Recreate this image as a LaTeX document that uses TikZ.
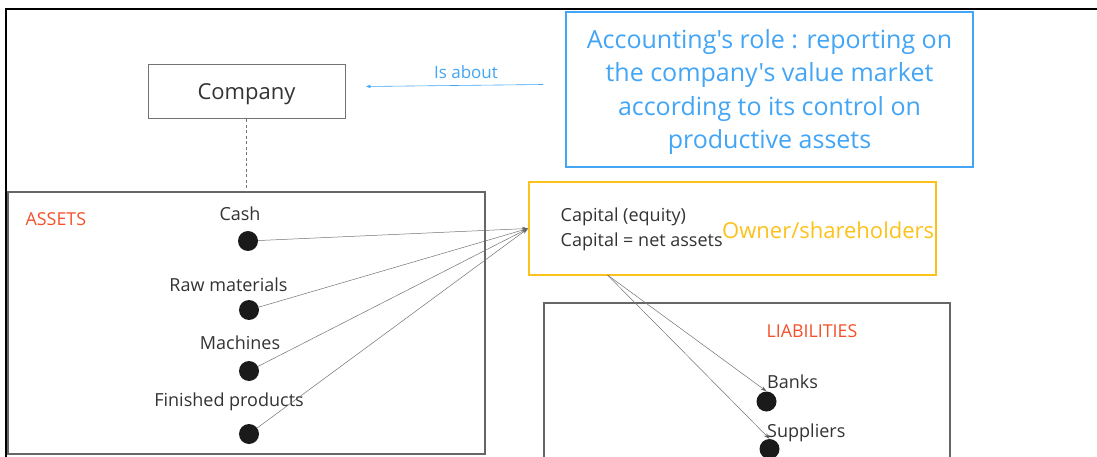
\documentclass[tikz,border=0pt]{standalone}
\usepackage{fontspec}
\setmainfont{Open Sans}[Ligatures=TeXOff]
\usetikzlibrary{arrows.meta,calc}
\definecolor{txt}{HTML}{333333}
\definecolor{acblue}{HTML}{42A5F5}
\definecolor{acyellow}{HTML}{FCC21B}
\definecolor{acred}{HTML}{F4502A}
\definecolor{boxgray}{HTML}{666666}
\definecolor{dotc}{HTML}{1A1A1A}
\begin{document}
\begin{tikzpicture}[x=1pt,y=-1pt,
  grayframe/.style={draw=boxgray,line width=1.3pt,inner sep=0pt},
  lbl/.style={text=txt,inner sep=0pt,font=\fontsize{18}{21}\selectfont},
  redlbl/.style={text=acred,inner sep=0pt,font=\fontsize{17.8}{21}\selectfont},
  dotnode/.style={circle,fill=dotc,minimum size=20pt,inner sep=0pt},
  conn/.style={draw=black!55,line width=0.5pt,-{Stealth[length=6pt,width=4pt,fill=black!80]}}]
\useasboundingbox (0,0) rectangle (1097,457);
\fill[white] (0,0) rectangle (1097,457);
\begin{scope}
\clip (0,0) rectangle (1097,457);
\draw[black,line width=2.2pt] (6,480) -- (6,9.3) -- (1120,9.3);
% company
\node[draw=black!55,line width=1pt,minimum width=197pt,minimum height=54pt,inner sep=0pt,
  text depth=0pt,text=txt,font=\fontsize{22}{26}\selectfont] (company) at (246.5,92) {Company};
% is about
\coordinate (aboutstart) at (543,84.5);
\coordinate (aboutend) at (366,86.5);
\draw[draw=acblue,line width=0.6pt,-{Stealth[length=5pt,width=3.5pt]}] (aboutstart) -- (aboutend);
\node[text=acblue,inner sep=0pt,font=\fontsize{17}{20}\selectfont] (isabout) at (466,72) {Is about};
% blue box
\node[draw=acblue,line width=2pt,minimum width=407pt,minimum height=155pt,inner sep=0pt] (rolebox) at (769.5,89.5) {};
\node[text=acblue,align=center,inner sep=0pt,font=\fontsize{25}{33.5}\selectfont] (roletext) at (769.5,92) {Accounting's role : reporting on\\the company's value market\\according to its control on\\productive assets};
% assets box
\node[grayframe,minimum width=477pt,minimum height=262pt] (assets) at (246.5,323) {};
\draw[draw=black!55,line width=0.8pt,dash pattern=on 3pt off 2.5pt] (company.south) -- (assets.north -| company.south);
\node[redlbl,anchor=west] (assetslbl) at (25.5,219) {ASSETS};
\node[lbl] (cash) at (240,214) {Cash};
\node[dotnode] (cashdot) at (248,241) {};
\node[lbl] (raw) at (228.5,285) {Raw materials};
\node[dotnode] (rawdot) at (249,310) {};
\node[lbl] (mach) at (240,343) {Machines};
\node[dotnode] (machdot) at (249,371) {};
\node[lbl] (fin) at (229,402) {Finished products};
\node[dotnode] (findot) at (249,434) {};
% capital box
\node[draw=acyellow,line width=2pt,minimum width=407pt,minimum height=93pt,inner sep=0pt] (capbox) at (732.5,228.5) {};
\node[lbl,anchor=west,align=left,font=\fontsize{18}{25}\selectfont] (captext) at (560.5,229.5) {Capital (equity)\\Capital = net assets};
\node[text=acyellow,inner sep=0pt,anchor=west,font=\fontsize{22}{26}\selectfont] (owner) at (722,230) {Owner/shareholders};
\draw[conn] (cashdot) -- (capbox.west);
\draw[conn] (rawdot) -- (capbox.west);
\draw[conn] (machdot) -- (capbox.west);
\draw[conn] (findot) -- (capbox.west);
% liabilities
\node[grayframe,minimum width=406pt,minimum height=220pt] (liab) at (747,413) {};
\node[redlbl] (liablbl) at (812,331) {LIABILITIES};
\node[lbl,anchor=west] (banks) at (767,382) {Banks};
\node[dotnode] (banksdot) at (766.5,401.5) {};
\node[lbl,anchor=west] (supp) at (767,433) {Suppliers};
\node[dotnode] (suppdot) at (769.5,449) {};
\coordinate (capout) at (607.5,275);
\draw[conn] (capout) -- (banksdot.north);
\draw[conn] (capout) -- (suppdot.north);
\end{scope}
\end{tikzpicture}
\end{document}
